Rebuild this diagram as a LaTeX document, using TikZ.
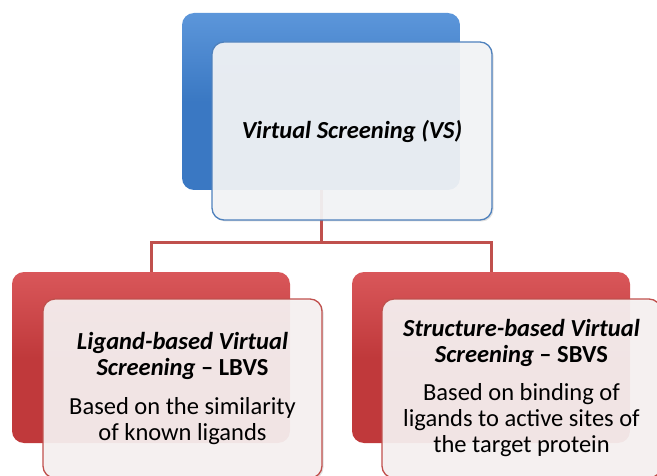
\documentclass[tikz,border=0pt]{standalone}
\usepackage{fontspec}
\setmainfont{Carlito}
\usetikzlibrary{shadows}
\definecolor{bluebk}{HTML}{3A78C3}
\definecolor{bluetop}{HTML}{5C96DA}
\definecolor{bluebd}{HTML}{4F81BD}
\definecolor{redbk}{HTML}{C0393B}
\definecolor{redtop}{HTML}{D9575A}
\definecolor{redbd}{HTML}{C0504D}
\definecolor{bluefront}{HTML}{F4F5F7}
\definecolor{redfront}{HTML}{F7F2F2}
\begin{document}
\begin{tikzpicture}[x=1pt,y=1pt,
  backbox/.style={rounded corners=12pt, inner sep=0pt, outer sep=0pt, draw=none},
  bluebackbox/.style={backbox, top color=bluetop, bottom color=bluebk, middle color=bluebk},
  redbackbox/.style={backbox, top color=redtop, bottom color=redbk, middle color=redbk},
  frontbox/.style={rounded corners=12pt, inner sep=0pt, outer sep=0pt, line width=1.3pt,
    fill opacity=0.92, text opacity=1, align=center, font=\fontsize{24.5}{26}\selectfont,
    drop shadow={opacity=0.25, shadow xshift=1.5pt, shadow yshift=-1.5pt}},
  bluefrontbox/.style={frontbox, draw=bluebd, fill=bluefront},
  redfrontbox/.style={frontbox, draw=redbd, fill=redfront},
  link/.style={draw=redbd, line width=3pt}
]
\useasboundingbox (0,0) rectangle (657,475);
\clip (0,0) rectangle (657,475);

% back boxes
\node[bluebackbox, minimum width=278pt, minimum height=177pt] (tb) at (321,373.5) {};
\node[redbackbox, minimum width=278pt, minimum height=171pt] (lb) at (151,117.5) {};
\node[redbackbox, minimum width=278pt, minimum height=171pt] (rb) at (491,117.5) {};

% connectors
\coordinate (j) at (321,232);
\draw[link] (tb.south) -- (j);
\draw[link] (j) -| (lb.north);
\draw[link] (j) -| (rb.north);

% front boxes
\node[bluefrontbox, minimum width=280pt, minimum height=178pt, font=\fontsize{24.5}{26}\selectfont] (tf) at (352,344)
  {\textbf{\textit{Virtual Screening (VS)}}};
\node[redfrontbox, minimum width=279pt, minimum height=179pt] (lf) at (182.5,86.5)
  {\textbf{\textit{Ligand-based Virtual}}\\ \textbf{\textit{Screening}} \textbf{-- LBVS}\\[13pt]
   Based on the similarity\\ of known ligands};
\node[redfrontbox, minimum width=279pt, minimum height=179pt] (rf) at (521.5,86.5)
  {\textbf{\textit{Structure-based Virtual}}\\ \textbf{\textit{Screening}} \textbf{-- SBVS}\\[12pt]
   Based on binding of\\ ligands to active sites of\\ the target protein};
\end{tikzpicture}
\end{document}
